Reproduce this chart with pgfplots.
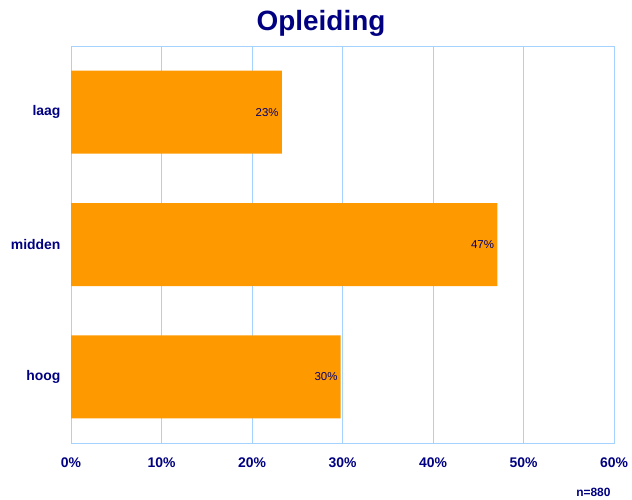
\documentclass[border=0pt]{standalone}
\usepackage{pgfplots}
\pgfplotsset{compat=1.18}
\usepackage{fontspec}
\setmainfont{Liberation Sans}
\definecolor{navy}{HTML}{000080}
\definecolor{barorange}{HTML}{FF9900}
\definecolor{gridblue}{HTML}{A6D2FF}
\begin{document}
\begin{tikzpicture}
  \path[use as bounding box] (0,0) rectangle (632bp,500bp);
  \begin{axis}[
      at={(71bp,57bp)}, anchor=south west,
      scale only axis,
      width=543bp, height=397bp,
      xbar, bar width=83bp,
      xmin=0, xmax=60,
      ymin=-0.5, ymax=2.5,
      y dir=reverse,
      xtick={0,10,...,60},
      xticklabel={\pgfmathprintnumber{\tick}\%},
      ytick={0,1,2},
      yticklabels={laag,midden,hoog},
      major tick length=0pt,
      xmajorgrids=true,
      grid style={gridblue, line width=0.8bp},
      axis line style={gridblue, line width=0.8bp},
      ticklabel style={font=\fontsize{14}{16}\selectfont\bfseries, text=navy},
      /pgf/number format/assume math mode=true,
      xticklabel style={yshift=-11bp},
      yticklabel style={xshift=-7bp},
      nodes near coords={\pgfmathprintnumber[fixed,precision=0]{\pgfplotspointmeta}\%},
      nodes near coords style={anchor=east, xshift=-2bp, inner sep=1bp,
        font=\fontsize{11.5}{13}\selectfont, text=navy!85!black},
      every node near coord/.append style={/pgf/number format/assume math mode=true},
    ]
    \addplot[fill=barorange, draw=none] coordinates {
        (23.3,0)
        (47.1,1)
        (29.8,2)
      };
  \end{axis}
  \node[font=\fontsize{28}{32}\selectfont\bfseries, text=navy, anchor=base]
    at (321bp,469bp) {Opleiding};
  \node[font=\fontsize{12}{14}\selectfont\bfseries, text=navy, anchor=base east]
    at (614bp,4bp) {n=880};
\end{tikzpicture}
\end{document}
